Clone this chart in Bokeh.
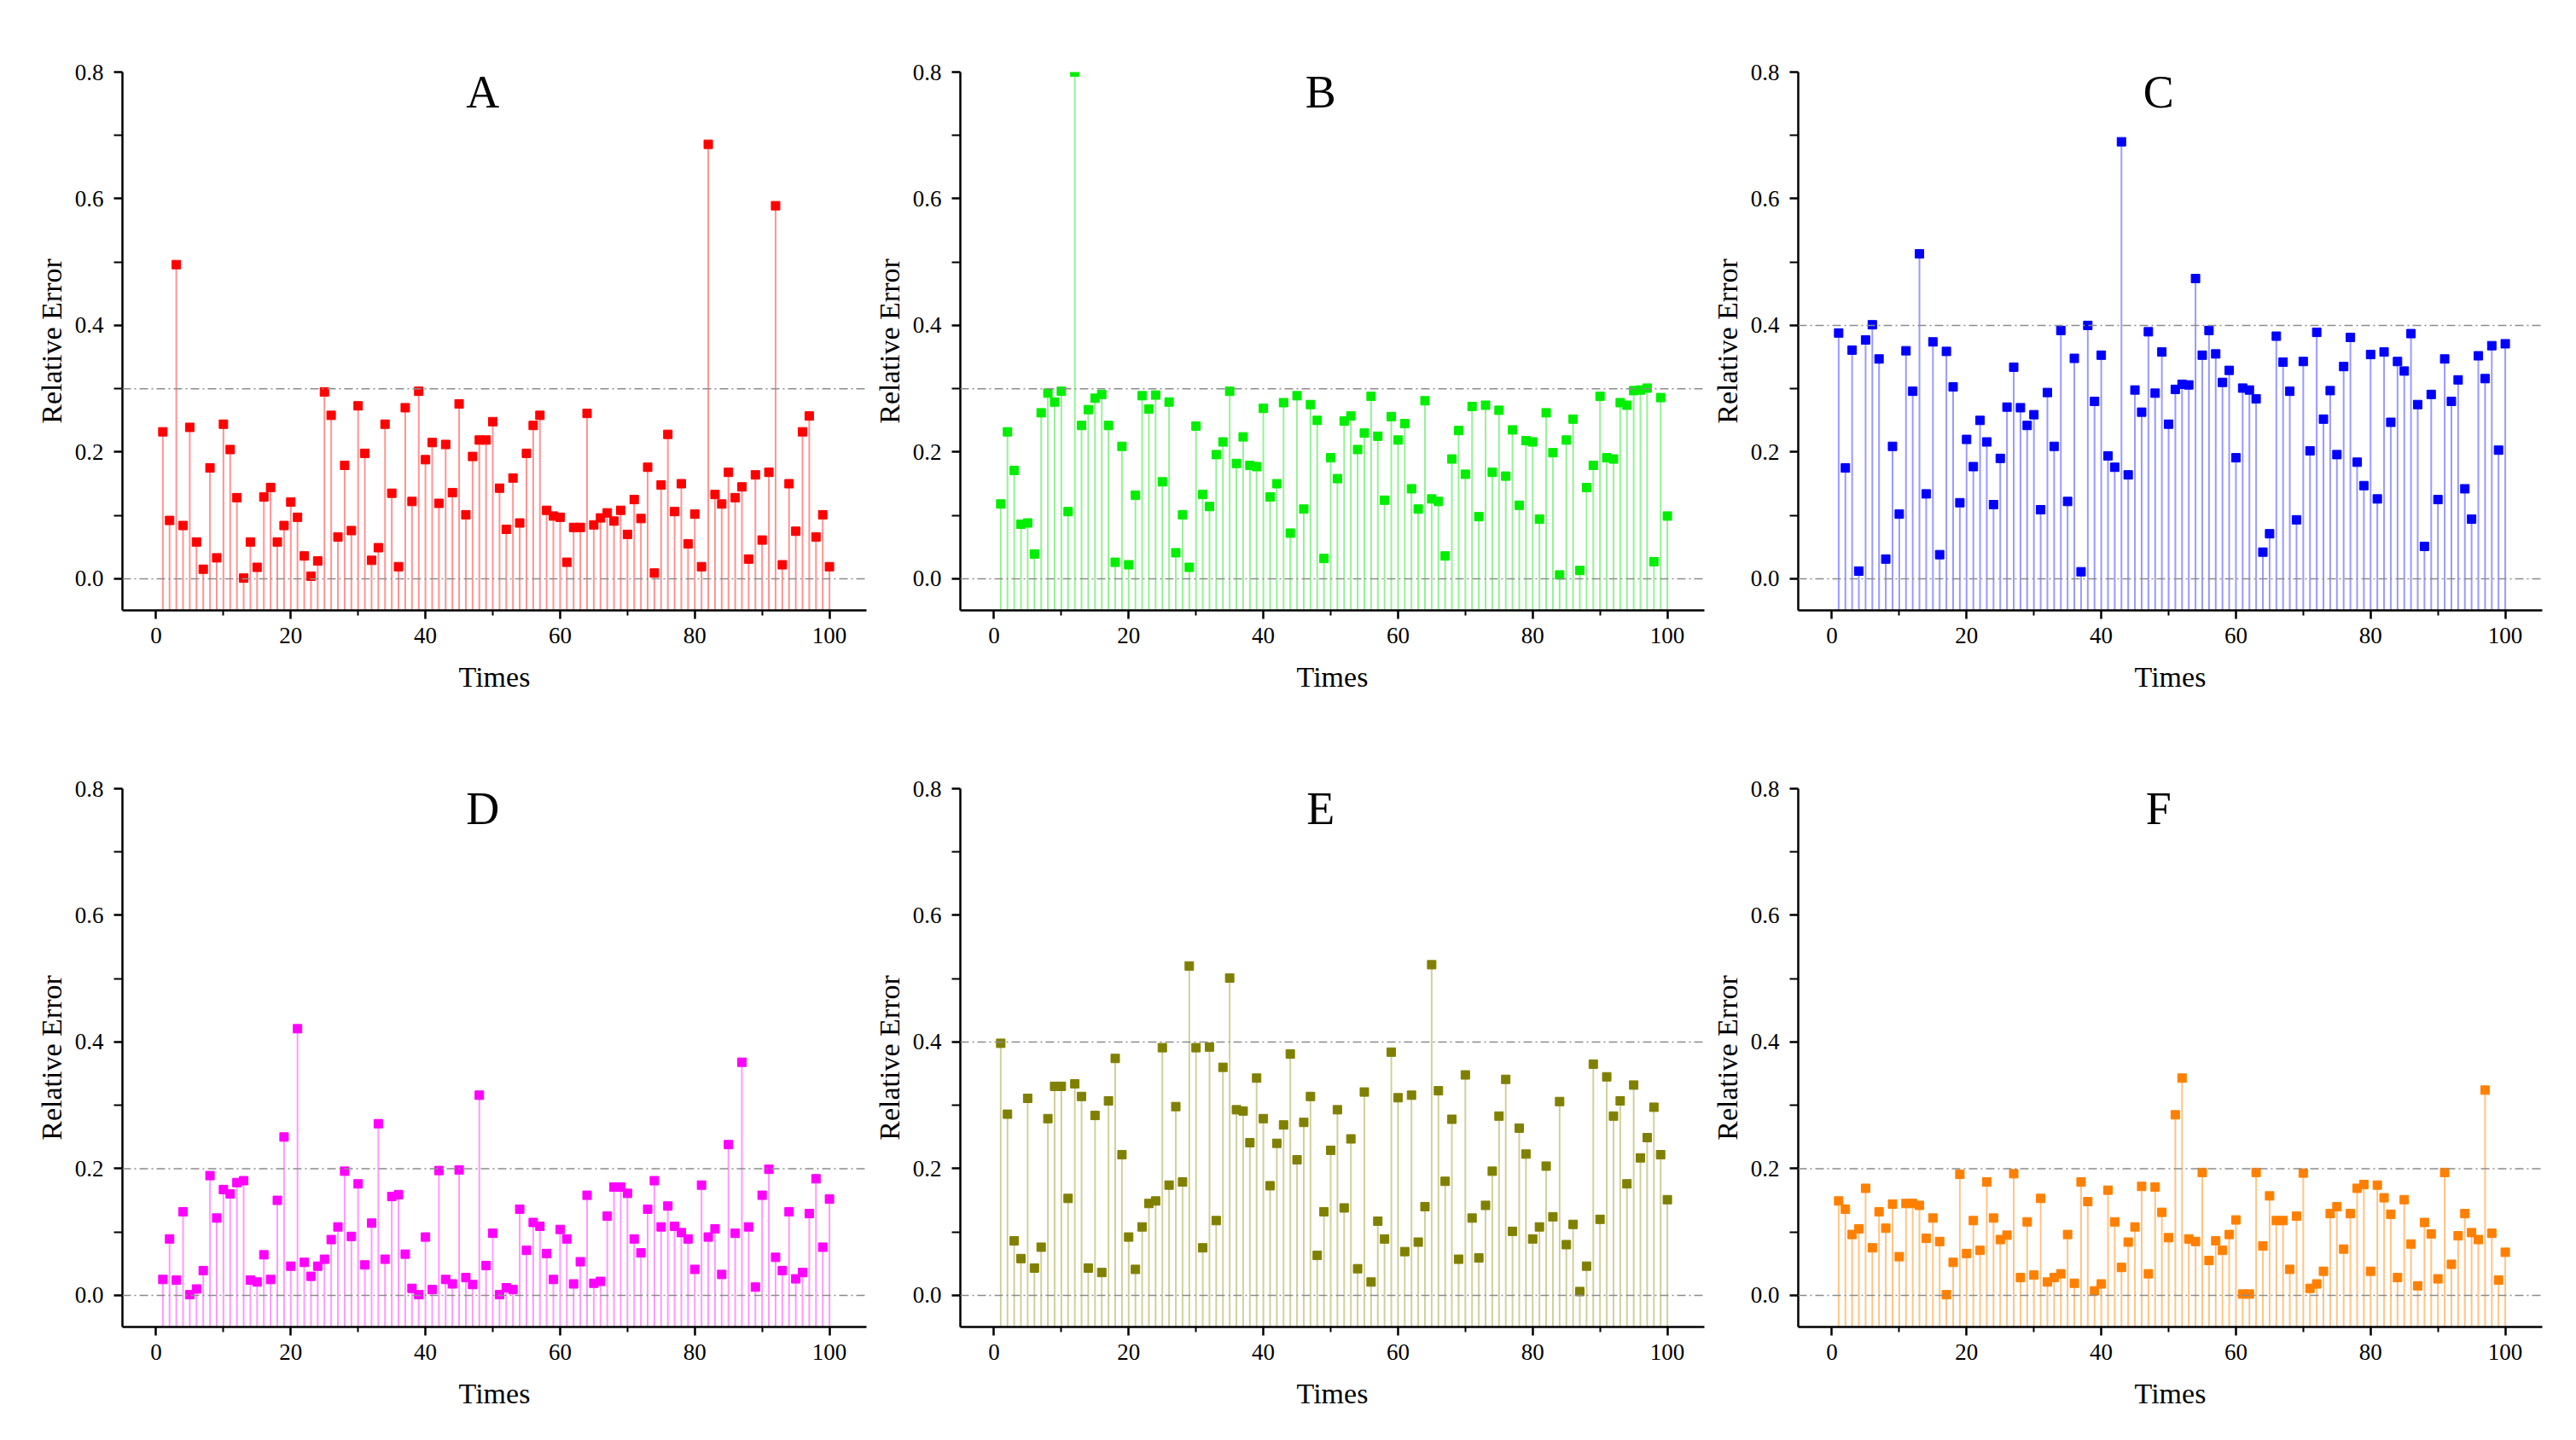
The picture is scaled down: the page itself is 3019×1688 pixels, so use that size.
from bokeh.plotting import figure
from bokeh.layouts import gridplot
from bokeh.models import ColumnDataSource, Range1d, FixedTicker, PrintfTickFormatter, Span, Label
from bokeh.embed import file_html
from bokeh.resources import INLINE

# --- data ---
times = list(range(1, 101))

err_a = [0.232, 0.092, 0.496, 0.084, 0.239, 0.058, 0.015, 0.175, 0.033, 0.244,
         0.204, 0.128, 0.001, 0.058, 0.018, 0.129, 0.144, 0.058, 0.084, 0.121,
         0.097, 0.036, 0.004, 0.028, 0.295, 0.258, 0.066, 0.179, 0.076, 0.273,
         0.198, 0.029, 0.049, 0.244, 0.135, 0.019, 0.270, 0.122, 0.296, 0.188,
         0.215, 0.119, 0.212, 0.136, 0.276, 0.101, 0.193, 0.219, 0.219, 0.248,
         0.143, 0.078, 0.159, 0.088, 0.198, 0.242, 0.258, 0.108, 0.099, 0.097,
         0.026, 0.081, 0.081, 0.261, 0.085, 0.096, 0.104, 0.091, 0.108, 0.070,
         0.125, 0.095, 0.176, 0.009, 0.148, 0.228, 0.106, 0.150, 0.055, 0.102,
         0.019, 0.686, 0.133, 0.118, 0.168, 0.128, 0.145, 0.031, 0.164, 0.061,
         0.168, 0.589, 0.022, 0.150, 0.075, 0.232, 0.257, 0.066, 0.101, 0.019]

err_b = [0.118, 0.232, 0.171, 0.086, 0.088, 0.039, 0.262, 0.293, 0.279, 0.296,
         0.106, 0.800, 0.242, 0.267, 0.285, 0.291, 0.242, 0.026, 0.209, 0.022,
         0.132, 0.289, 0.268, 0.290, 0.153, 0.279, 0.041, 0.101, 0.018, 0.241,
         0.133, 0.114, 0.196, 0.216, 0.296, 0.182, 0.224, 0.179, 0.177, 0.269,
         0.129, 0.150, 0.278, 0.072, 0.289, 0.110, 0.275, 0.250, 0.032, 0.191,
         0.158, 0.249, 0.257, 0.204, 0.230, 0.288, 0.225, 0.124, 0.256, 0.219,
         0.245, 0.142, 0.110, 0.281, 0.126, 0.122, 0.036, 0.189, 0.234, 0.165,
         0.272, 0.098, 0.274, 0.168, 0.266, 0.162, 0.235, 0.116, 0.218, 0.216,
         0.094, 0.262, 0.199, 0.006, 0.219, 0.252, 0.013, 0.144, 0.179, 0.288,
         0.191, 0.189, 0.278, 0.274, 0.297, 0.298, 0.301, 0.027, 0.286, 0.099]

err_c = [0.388, 0.175, 0.361, 0.012, 0.377, 0.401, 0.347, 0.031, 0.209, 0.102,
         0.360, 0.296, 0.513, 0.134, 0.374, 0.038, 0.359, 0.303, 0.120, 0.220,
         0.177, 0.250, 0.216, 0.117, 0.190, 0.271, 0.334, 0.270, 0.242, 0.259,
         0.109, 0.294, 0.209, 0.392, 0.122, 0.348, 0.011, 0.400, 0.280, 0.353,
         0.194, 0.176, 0.690, 0.164, 0.298, 0.263, 0.390, 0.293, 0.358, 0.244,
         0.299, 0.307, 0.306, 0.474, 0.353, 0.392, 0.355, 0.310, 0.329, 0.191,
         0.301, 0.298, 0.284, 0.042, 0.071, 0.383, 0.342, 0.296, 0.093, 0.343,
         0.202, 0.389, 0.252, 0.297, 0.196, 0.335, 0.381, 0.184, 0.147, 0.354,
         0.126, 0.358, 0.247, 0.343, 0.328, 0.387, 0.275, 0.051, 0.291, 0.125,
         0.347, 0.280, 0.314, 0.142, 0.094, 0.352, 0.316, 0.368, 0.203, 0.371]

err_d = [0.025, 0.089, 0.024, 0.132, 0.001, 0.010, 0.039, 0.189, 0.122, 0.167,
         0.160, 0.178, 0.181, 0.024, 0.021, 0.064, 0.025, 0.150, 0.250, 0.046,
         0.421, 0.052, 0.030, 0.046, 0.057, 0.088, 0.108, 0.196, 0.093, 0.176,
         0.048, 0.114, 0.271, 0.057, 0.156, 0.159, 0.065, 0.011, 0.001, 0.092,
         0.009, 0.197, 0.025, 0.018, 0.198, 0.028, 0.017, 0.316, 0.047, 0.098,
         0.001, 0.012, 0.009, 0.136, 0.071, 0.115, 0.109, 0.066, 0.025, 0.104,
         0.089, 0.018, 0.053, 0.158, 0.019, 0.022, 0.125, 0.171, 0.171, 0.161,
         0.089, 0.067, 0.136, 0.181, 0.108, 0.141, 0.109, 0.099, 0.089, 0.041,
         0.174, 0.092, 0.105, 0.033, 0.238, 0.098, 0.368, 0.108, 0.013, 0.158,
         0.199, 0.060, 0.039, 0.132, 0.026, 0.036, 0.129, 0.184, 0.076, 0.152]

err_e = [0.398, 0.286, 0.086, 0.058, 0.311, 0.043, 0.076, 0.279, 0.330, 0.330,
         0.153, 0.334, 0.314, 0.043, 0.284, 0.036, 0.307, 0.374, 0.222, 0.092,
         0.041, 0.108, 0.145, 0.149, 0.391, 0.174, 0.298, 0.179, 0.520, 0.391,
         0.075, 0.392, 0.118, 0.360, 0.501, 0.293, 0.291, 0.241, 0.343, 0.279,
         0.173, 0.240, 0.269, 0.381, 0.214, 0.273, 0.314, 0.063, 0.132, 0.229,
         0.293, 0.138, 0.247, 0.042, 0.321, 0.021, 0.117, 0.089, 0.384, 0.312,
         0.069, 0.316, 0.084, 0.140, 0.522, 0.323, 0.180, 0.278, 0.057, 0.348,
         0.122, 0.059, 0.142, 0.196, 0.283, 0.341, 0.101, 0.264, 0.223, 0.089,
         0.108, 0.204, 0.124, 0.306, 0.080, 0.112, 0.006, 0.046, 0.365, 0.120,
         0.345, 0.283, 0.307, 0.176, 0.332, 0.217, 0.249, 0.297, 0.222, 0.151]

err_f = [0.149, 0.136, 0.096, 0.105, 0.169, 0.075, 0.132, 0.106, 0.144, 0.061,
         0.145, 0.145, 0.142, 0.090, 0.122, 0.085, 0.001, 0.052, 0.191, 0.066,
         0.118, 0.071, 0.179, 0.122, 0.088, 0.095, 0.192, 0.028, 0.116, 0.032,
         0.153, 0.021, 0.028, 0.034, 0.096, 0.019, 0.179, 0.148, 0.007, 0.018,
         0.166, 0.116, 0.044, 0.084, 0.108, 0.172, 0.034, 0.171, 0.131, 0.091,
         0.285, 0.343, 0.089, 0.085, 0.194, 0.055, 0.086, 0.071, 0.096, 0.119,
         0.002, 0.002, 0.194, 0.078, 0.157, 0.118, 0.118, 0.041, 0.125, 0.193,
         0.011, 0.018, 0.038, 0.129, 0.140, 0.073, 0.129, 0.169, 0.175, 0.038,
         0.174, 0.154, 0.128, 0.028, 0.151, 0.081, 0.015, 0.115, 0.097, 0.026,
         0.194, 0.049, 0.094, 0.129, 0.099, 0.088, 0.324, 0.098, 0.024, 0.068]

letters = ["A", "B", "C", "D", "E", "F"]
series = [err_a, err_b, err_c, err_d, err_e, err_f]
thresholds = [0.3, 0.3, 0.4, 0.2, 0.4, 0.2]
marker_colors = ["#ff0000", "#00ee00", "#0000ff", "#ff00ff", "#808000", "#ff8000"]
stem_colors = ["#ff9494", "#94f294", "#9a9aff", "#ff9aff", "#d0d09c", "#ffc484"]

x_ticks = [0, 20, 40, 60, 80, 100]
x_minor = [10, 30, 50, 70, 90]
y_ticks = [0.0, 0.2, 0.4, 0.6, 0.8]
y_minor = [0.1, 0.3, 0.5, 0.7]

FONT = "Liberation Serif"
Y_LOW, Y_HIGH = -0.05, 0.8
left_borders = [143, 108, 108]


def make_panel(i):
    col, row = i % 3, i // 3
    p = figure(frame_width=872, frame_height=631,
               x_range=Range1d(-5, 105.5), y_range=Range1d(Y_LOW, Y_HIGH),
               min_border_left=left_borders[col], min_border_right=2,
               min_border_top=84 if row == 0 else 76,
               min_border_bottom=133 if row == 0 else 100,
               output_backend="svg", toolbar_location=None,
               background_fill_color="white", border_fill_color="white")
    p.outline_line_color = None
    p.grid.visible = False

    src = ColumnDataSource(dict(t=times, err=series[i]))
    p.segment(x0="t", y0=Y_LOW, x1="t", y1="err", source=src,
              line_color=stem_colors[i], line_width=2)
    p.scatter("t", "err", source=src, marker="square", size=10,
              fill_color=marker_colors[i], line_color=marker_colors[i])

    for lvl in (0.0, thresholds[i]):
        p.add_layout(Span(location=lvl, dimension="width", line_color="#8c8c8c",
                          line_width=1.5, line_dash="10 4 2 4"))

    p.add_layout(Label(x=48.5, y=0.768, text=letters[i], text_font=FONT,
                       text_font_size="54px", text_align="center",
                       text_baseline="middle", text_color="black"))

    p.xaxis.ticker = FixedTicker(ticks=x_ticks, minor_ticks=x_minor)
    p.yaxis.ticker = FixedTicker(ticks=y_ticks, minor_ticks=y_minor)
    p.yaxis.formatter = PrintfTickFormatter(format="%.1f")
    p.xaxis.axis_label = "Times"
    p.yaxis.axis_label = "Relative Error"

    for ax in (p.xaxis, p.yaxis):
        ax.axis_line_width = 2.5
        ax.axis_line_color = "black"
        ax.major_tick_line_width = 2.5
        ax.minor_tick_line_width = 2
        ax.major_tick_in = 0
        ax.minor_tick_in = 0
        ax.major_tick_out = 10
        ax.major_label_text_font = FONT
        ax.major_label_text_font_size = "27px"
        ax.major_label_text_color = "black"
        ax.axis_label_text_font = FONT
        ax.axis_label_text_font_size = "34px"
        ax.axis_label_text_font_style = "normal"
        ax.axis_label_text_color = "black"
    p.xaxis.minor_tick_out = 6
    p.yaxis.minor_tick_out = 10
    p.xaxis.major_label_standoff = 10
    p.xaxis.axis_label_standoff = 18
    p.yaxis.major_label_standoff = 12
    p.yaxis.axis_label_standoff = 6
    return p


panels = [make_panel(i) for i in range(6)]
grid = gridplot([panels[:3], panels[3:]], toolbar_location=None)

open("out.html", "w").write(file_html(grid, INLINE))
